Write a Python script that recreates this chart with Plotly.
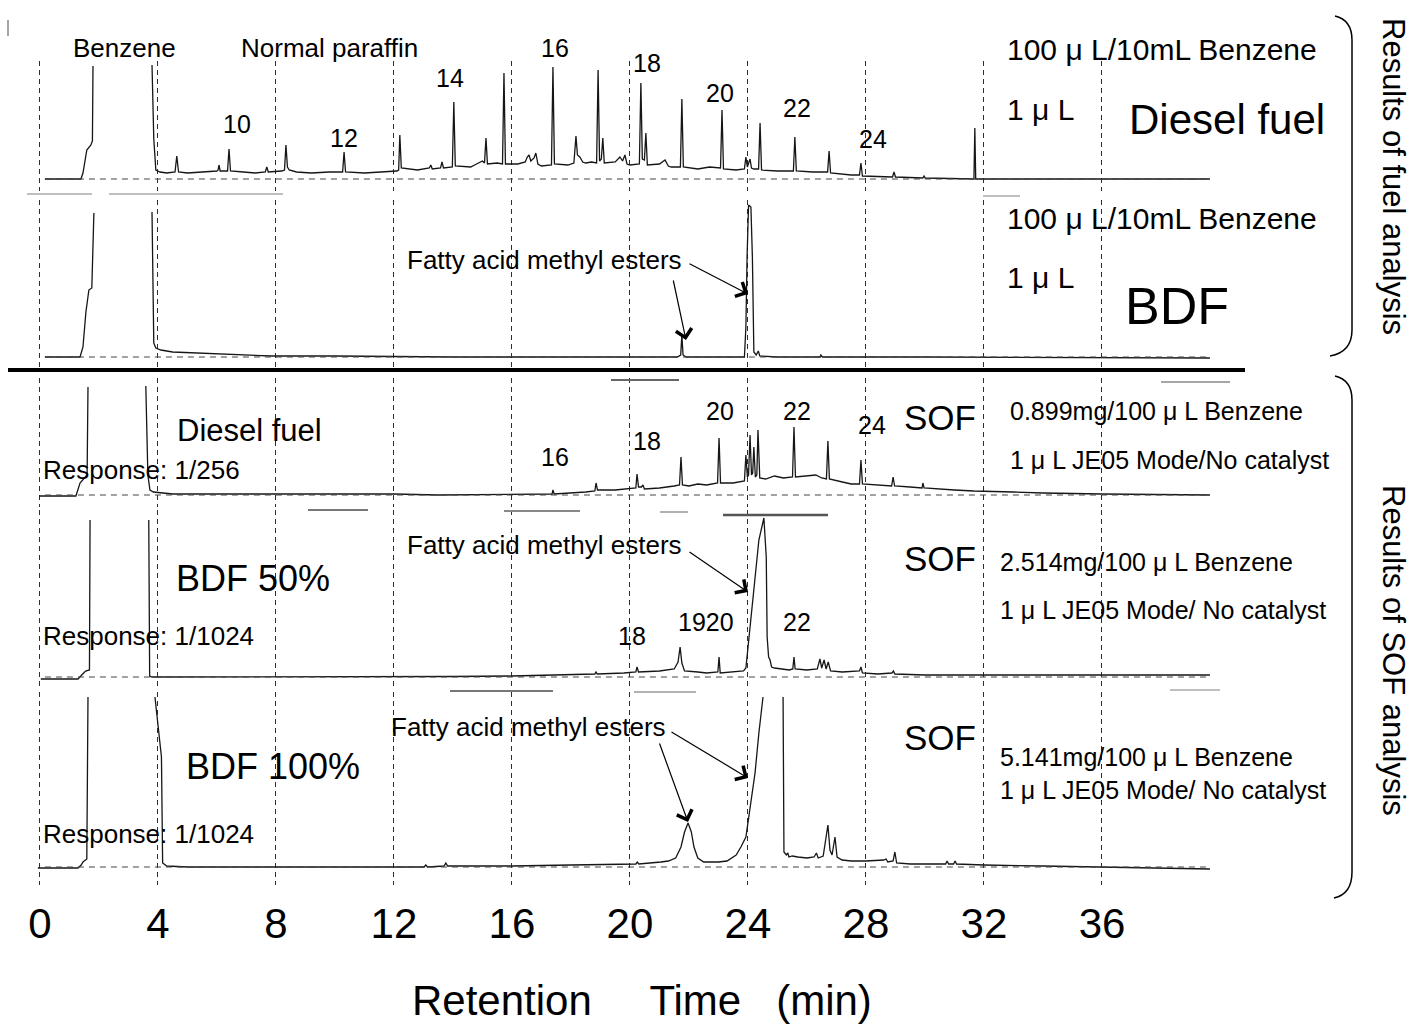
import plotly.graph_objects as go

# ---------------- DATA: (retention time [min], detector signal above baseline [a.u.]) ----------------
# None marks where the pen went off scale (peak clipped at the top of the trace window)
fuel_diesel = [
    (0.17, 0), (1.39, 0), (1.46, 6), (1.53, 18), (1.59, 29), (1.73, 34), (1.78, 38), (1.80, 113), (None, None),
    (3.80, 114), (3.86, 40), (3.93, 9), (4.07, 7), (4.30, 6), (4.58, 7), (4.64, 23), (4.70, 7), (5.00, 6),
    (5.46, 7), (6.00, 8), (6.04, 9), (6.07, 14), (6.11, 8), (6.36, 8), (6.41, 30), (6.46, 8), (6.90, 7),
    (7.30, 6), (7.64, 7), (7.69, 12), (7.74, 7), (8.20, 8), (8.29, 9), (8.34, 34), (8.39, 12), (8.45, 9),
    (8.70, 7), (9.20, 6), (9.80, 7), (10.26, 7), (10.31, 27), (10.36, 7), (11.00, 6), (11.60, 7), (12.10, 8),
    (12.16, 9), (12.20, 44), (12.25, 11), (12.80, 9), (13.20, 11), (13.25, 14), (13.30, 10), (13.58, 11),
    (13.63, 17), (13.68, 11), (13.98, 12), (14.03, 77), (14.08, 13), (14.60, 12), (14.80, 15), (15.00, 18),
    (15.07, 16), (15.12, 41), (15.17, 15), (15.50, 16), (15.68, 15), (15.73, 106), (15.78, 15), (16.20, 15),
    (16.45, 17), (16.52, 22), (16.58, 24), (16.64, 18), (16.75, 21), (16.81, 26), (16.88, 15), (17.00, 13),
    (17.34, 14), (17.39, 112), (17.44, 15), (17.90, 14), (18.10, 16), (18.17, 43), (18.22, 24), (18.30, 22),
    (18.40, 17), (18.50, 16), (18.70, 17), (18.87, 16), (18.92, 109), (18.97, 18), (19.03, 20), (19.08, 41),
    (19.13, 16), (19.50, 17), (19.66, 22), (19.75, 18), (19.83, 24), (19.90, 15), (20.00, 14), (20.32, 15),
    (20.37, 96), (20.42, 20), (20.49, 19), (20.54, 46), (20.59, 14), (21.00, 15), (21.19, 19), (21.30, 13),
    (21.40, 12), (21.71, 12), (21.76, 80), (21.81, 12), (22.30, 10), (22.70, 12), (23.07, 11), (23.12, 69),
    (23.17, 10), (23.60, 9), (23.88, 10), (23.93, 22), (23.98, 12), (24.07, 20), (24.12, 11), (24.20, 10),
    (24.36, 10), (24.41, 56), (24.46, 9), (25.00, 8), (25.54, 8), (25.59, 42), (25.64, 8), (26.20, 7),
    (26.70, 7), (26.75, 28), (26.80, 6), (27.50, 4), (27.78, 4), (27.83, 16), (27.88, 3), (28.50, 2),
    (28.90, 2), (28.95, 7), (29.00, 2), (29.93, 1), (29.97, 3), (30.01, 1), (31.00, 0.5), (31.66, 0),
    (31.69, 51), (31.72, 0), (35.00, 0), (39.66, 0),
]

fuel_bdf = [
    (0.17, 0), (1.36, 0), (1.46, 10), (1.56, 45), (1.66, 67), (1.76, 69), (1.83, 144), (None, None),
    (3.80, 145), (3.86, 14), (3.93, 9), (4.10, 7), (4.50, 5), (5.46, 4), (6.50, 3), (7.86, 1), (10.00, 1),
    (14.00, 0), (18.00, 0), (21.60, 0), (21.72, 2), (21.76, 22), (21.80, 2), (21.90, 0), (23.88, 0),
    (23.93, 30), (23.97, 100), (24.02, 152), (24.10, 150), (24.15, 100), (24.20, 5), (24.28, 2), (24.35, 6),
    (24.40, 1), (25.00, 0), (26.44, 0), (26.47, 2), (26.52, 0), (30.00, 0), (39.66, -1),
]

sof_diesel = [
    (-0.03, -1), (1.22, -1), (1.36, 12), (1.50, 17), (1.60, 20), (1.63, 108), (None, None),
    (3.59, 109), (3.66, 20), (3.73, 5), (3.85, 3), (4.50, 1), (5.50, 1), (8.00, 1), (10.00, 1), (12.00, 1),
    (13.50, 0), (16.00, 1), (17.36, 1), (17.39, 5), (17.43, 1), (18.50, 3), (18.81, 4), (18.85, 12),
    (18.90, 5), (19.50, 5), (20.00, 6), (20.20, 7), (20.24, 21), (20.29, 8), (20.39, 8), (20.44, 10),
    (20.49, 6), (21.00, 7), (21.50, 9), (21.68, 10), (21.73, 38), (21.78, 10), (22.00, 9), (22.30, 11),
    (22.60, 10), (22.97, 12), (23.02, 57), (23.07, 12), (23.50, 12), (23.88, 14), (23.93, 40), (23.98, 18),
    (24.02, 20), (24.07, 60), (24.12, 20), (24.16, 22), (24.20, 48), (24.25, 18), (24.30, 20), (24.34, 65),
    (24.40, 17), (24.60, 16), (24.90, 19), (25.20, 17), (25.51, 18), (25.56, 68), (25.61, 18), (26.00, 19),
    (26.30, 20), (26.50, 17), (26.66, 16), (26.71, 54), (26.76, 16), (27.20, 13), (27.50, 11), (27.78, 11),
    (27.83, 35), (27.88, 11), (28.30, 10), (28.87, 9), (28.92, 18), (28.97, 9), (29.50, 8), (29.90, 7),
    (29.93, 12), (29.97, 7), (31.00, 5), (31.66, 4), (33.00, 3), (34.00, 2), (36.00, 1), (39.66, 0),
]

sof_bdf50 = [
    (0.03, -2), (1.29, -2), (1.45, 3), (1.55, 6), (1.68, 7), (1.70, 157), (None, None),
    (3.69, 157), (3.72, 1), (3.80, 0), (5.00, 0), (10.00, 0), (14.00, 0.5), (16.00, 1), (18.00, 2),
    (18.81, 3), (18.85, 5), (18.89, 3), (19.80, 4), (20.20, 5), (20.24, 10), (20.29, 5), (21.00, 6),
    (21.50, 8), (21.63, 15), (21.70, 30), (21.76, 14), (21.85, 6), (22.30, 5), (22.60, 4), (22.98, 5),
    (23.02, 20), (23.06, 4), (23.50, 5), (23.85, 6), (23.93, 9), (24.07, 50), (24.24, 97), (24.37, 137),
    (24.54, 159), (24.62, 120), (24.65, 40), (24.70, 20), (24.75, 17), (24.80, 10), (24.90, 9), (25.20, 8),
    (25.40, 7), (25.52, 8), (25.56, 20), (25.60, 8), (26.00, 7), (26.35, 8), (26.44, 18), (26.50, 9),
    (26.58, 17), (26.65, 8), (26.72, 15), (26.80, 6), (27.20, 5), (27.78, 6), (27.83, 10), (27.88, 4),
    (28.40, 3), (28.88, 4), (28.93, 6), (28.98, 3), (30.00, 2), (32.00, 2), (36.00, 2), (39.66, 2),
]

sof_bdf100 = [
    (-0.07, -1), (1.29, -1), (1.40, 2), (1.46, 5), (1.59, 8), (1.63, 170), (None, None),
    (3.90, 170), (4.05, 130), (4.12, 110), (4.16, 4), (4.30, 1), (5.00, 0), (8.00, 0), (12.00, 0),
    (13.02, 0), (13.08, 2), (13.14, 0), (13.70, 1), (13.76, 4), (13.82, 1), (16.00, 1), (18.00, 2),
    (19.83, 3), (20.20, 3), (20.25, 5), (20.30, 3), (21.05, 5), (21.30, 6), (21.55, 9), (21.73, 20),
    (21.85, 35), (21.97, 44), (22.08, 35), (22.17, 20), (22.30, 9), (22.50, 5), (23.00, 5), (23.29, 6),
    (23.60, 12), (23.76, 20), (23.93, 30), (24.07, 60), (24.24, 94), (24.37, 134), (24.51, 170), (None, None),
    (25.19, 170), (25.22, 15), (25.30, 12), (25.35, 14), (25.39, 10), (25.50, 11), (25.69, 10), (26.00, 9),
    (26.24, 10), (26.32, 14), (26.38, 9), (26.55, 11), (26.71, 42), (26.78, 17), (26.85, 12), (26.95, 30),
    (27.02, 10), (27.19, 7), (27.50, 6), (28.00, 6), (28.60, 7), (28.68, 8), (28.74, 5), (28.92, 6),
    (28.98, 15), (29.04, 4), (29.50, 3), (30.20, 3), (30.70, 3), (30.75, 6), (30.80, 3), (30.97, 3),
    (31.02, 6), (31.07, 3), (32.00, 2), (34.00, 1), (36.00, 0), (39.66, -2),
]

tick_vals = [0, 4, 8, 12, 16, 20, 24, 28, 32, 36]
tick_text = ["0", "4", "8", "12", "16", "20", "24", "28", "32", "36"]

# ---------------- LAYOUT HELPERS ----------------
FONT = "Liberation Sans, Arial, sans-serif"
FIG_W, FIG_H = 1416, 1027
M_L, M_R, M_T, M_B = 34, 196, 20, 142
PW = FIG_W - M_L - M_R
PH = FIG_H - M_T - M_B


def px_x(px):
    return (px - M_L) / PW


def px_y(py):
    return 1 - (py - M_T) / PH


# panel windows in screen pixels (top, bottom) and bottom of the signal range
panels = [
    dict(pts=fuel_diesel, top=61, bottom=191, ymin=-12),
    dict(pts=fuel_bdf, top=200, bottom=369, ymin=-12),
    dict(pts=sof_diesel, top=378, bottom=507, ymin=-12),
    dict(pts=sof_bdf50, top=510, bottom=689, ymin=-12),
    dict(pts=sof_bdf100, top=692, bottom=885, ymin=-18),
]

fig = go.Figure()
layout = dict(
    width=FIG_W, height=FIG_H,
    margin=dict(l=M_L, r=M_R, t=M_T, b=M_B),
    paper_bgcolor="white", plot_bgcolor="white",
    showlegend=False,
    font=dict(family=FONT, color="black"),
)
shapes = []
n = len(panels)
for i, p in enumerate(panels, start=1):
    sfx = "" if i == 1 else str(i)
    t = [q[0] for q in p["pts"]]
    s = [q[1] for q in p["pts"]]
    fig.add_trace(go.Scatter(x=t, y=s, mode="lines", xaxis="x" + sfx, yaxis="y" + sfx,
                             line=dict(color="#161616", width=1.3), hoverinfo="skip"))
    ymax = p["ymin"] + (p["bottom"] - p["top"])
    layout["xaxis" + sfx] = dict(
        domain=[0, 1], anchor="y" + sfx, range=[-0.2, 40],
        tickvals=tick_vals, ticktext=tick_text, showticklabels=(i == n),
        tickfont=dict(size=42, family=FONT, color="black"), ticks="",
        ticklabelstandoff=10,
        showgrid=True, gridcolor="#2e2e2e", gridwidth=1, griddash="5px,4px",
        zeroline=False, showline=False,
        **({} if i == 1 else dict(matches="x")),
    )
    layout["yaxis" + sfx] = dict(
        domain=[px_y(p["bottom"]), px_y(p["top"])], anchor="x" + sfx,
        range=[p["ymin"], ymax], visible=False,
    )
    # dashed baseline of each chromatogram
    shapes.append(dict(type="line", xref="x" + sfx, yref="y" + sfx, x0=0.17, x1=39.66, y0=0, y1=0,
                       line=dict(color="#444", width=1, dash="6px,5px")))

# thick separator between fuel and SOF analyses
shapes.append(dict(type="line", xref="paper", yref="paper", x0=px_x(8), x1=px_x(1245),
                   y0=px_y(370), y1=px_y(370), line=dict(color="black", width=4)))

# faint smudges left by the scanned chart paper edges
for (x0, x1, yy, col, w) in [(27, 92, 194, "#aaa", 1.5), (109, 283, 194, "#aaa", 1.5),
                             (983, 1020, 196, "#aaa", 1.5), (611, 679, 380, "#666", 2),
                             (1161, 1230, 382, "#888", 1.5), (308, 368, 510, "#777", 2),
                             (504, 580, 511, "#888", 2), (660, 688, 512, "#999", 1.5),
                             (723, 828, 515, "#555", 2.5), (450, 553, 691, "#777", 2),
                             (634, 696, 692, "#999", 1.5), (1170, 1220, 690, "#aaa", 1.5)]:
    shapes.append(dict(type="line", xref="paper", yref="paper", x0=px_x(x0), x1=px_x(x1),
                       y0=px_y(yy), y1=px_y(yy), line=dict(color=col, width=w)))
shapes.append(dict(type="line", xref="paper", yref="paper", x0=px_x(8), x1=px_x(8),
                   y0=px_y(20), y1=px_y(36), line=dict(color="#888", width=1.5)))


def path_px(cmds):
    out = []
    for c in cmds:
        if isinstance(c, str):
            out.append(c)
        else:
            out.append(f"{px_x(c[0]):.5f},{px_y(c[1]):.5f}")
    return " ".join(out)


for (y0, y1, yend_x) in [(16, 356, 1330), (376, 898, 1334)]:
    pth = path_px(["M", (1335, y0), "Q", (1352, y0 + 4), (1352, y0 + 24), "L", (1352, y1 - 26),
                   "Q", (1352, y1 - 4), (yend_x, y1)])
    shapes.append(dict(type="path", xref="paper", yref="paper", path=pth,
                       line=dict(color="black", width=1.5)))

layout["shapes"] = shapes

ann = []


def T(text, px, py, size, xanchor="center", angle=0):
    ann.append(dict(text=text, x=px_x(px), y=px_y(py), xref="paper", yref="paper", showarrow=False,
                    xanchor=xanchor, yanchor="middle", textangle=angle,
                    font=dict(size=size, family=FONT, color="black")))


def A(hx, hy, tx, ty):
    ann.append(dict(text="", x=px_x(hx), y=px_y(hy), xref="paper", yref="paper", showarrow=True,
                    ax=tx - hx, ay=ty - hy, axref="pixel", ayref="pixel",
                    arrowhead=4, arrowsize=2.6, arrowwidth=1.2, arrowcolor="black", standoff=0))


# panel 1: diesel fuel
T("Benzene", 124, 48, 26)
T("Normal paraffin", 329, 48, 26)
for lab, x, y in [("10", 237, 124), ("12", 344, 138), ("14", 450, 78), ("16", 555, 48), ("18", 647, 63),
                  ("20", 720, 93), ("22", 797, 108), ("24", 873, 139)]:
    T(lab, x, y, 25)
T("100 μ L/10mL Benzene", 1005, 50, 30, "left")
T("1 μ L", 1005, 109, 30, "left")
T("Diesel fuel", 1227, 120, 42)
# panel 2: BDF
T("100 μ L/10mL Benzene", 1005, 218, 30, "left")
T("1 μ L", 1005, 277, 30, "left")
T("BDF", 1177, 306, 52)
T("Fatty acid methyl esters", 544, 260, 26)
A(748, 294, 688, 263)
A(686, 340, 673, 279)
# panel 3: SOF diesel
T("Diesel fuel", 249, 430, 31)
T("Response: 1/256", 41, 470, 26, "left")
for lab, x, y in [("16", 555, 457), ("18", 647, 441), ("20", 720, 411), ("22", 797, 411), ("24", 872, 425)]:
    T(lab, x, y, 25)
T("SOF", 940, 417, 35)
T("0.899mg/100 μ L Benzene", 1008, 411, 25, "left")
T("1 μ L JE05 Mode/No catalyst", 1008, 460, 25, "left")
# panel 4: SOF BDF 50%
T("BDF 50%", 253, 578, 36)
T("Response: 1/1024", 41, 636, 26, "left")
T("Fatty acid methyl esters", 544, 545, 26)
A(748, 592, 688, 551)
for lab, x, y in [("18", 632, 636), ("1920", 706, 622), ("22", 797, 622)]:
    T(lab, x, y, 25)
T("SOF", 940, 558, 35)
T("2.514mg/100 μ L Benzene", 998, 562, 25, "left")
T("1 μ L JE05 Mode/ No catalyst", 998, 610, 25, "left")
# panel 5: SOF BDF 100%
T("BDF 100%", 273, 766, 36)
T("Response: 1/1024", 41, 834, 26, "left")
T("Fatty acid methyl esters", 528, 727, 26)
A(748, 778, 670, 731)
A(688, 822, 659, 742)
T("SOF", 940, 737, 35)
T("5.141mg/100 μ L Benzene", 998, 757, 25, "left")
T("1 μ L JE05 Mode/ No catalyst", 998, 790, 25, "left")
# side labels and axis title
T("Results of fuel analysis", 1394, 176, 31, angle=90)
T("Results of SOF analysis", 1394, 650, 31, angle=90)
T("Retention\u00a0\u00a0\u00a0\u00a0 Time\u00a0\u00a0 (min)", 642, 1000, 42)

layout["annotations"] = ann
fig.update_layout(**layout)
fig.write_html("out.html", config={"displayModeBar": False},
               post_script="document.body.style.margin='0';")
